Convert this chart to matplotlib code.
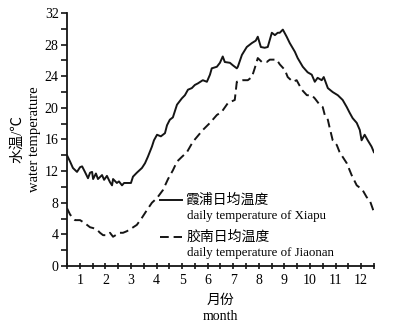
import matplotlib
matplotlib.use('Agg')
import matplotlib.pyplot as plt
from matplotlib.lines import Line2D

plt.rcParams['font.family'] = ['Liberation Serif', 'Noto Sans CJK SC', 'DejaVu Sans']

# daily mean water temperature, x in months
xiapu_month = [0.5, 0.62, 0.73, 0.89, 1.01, 1.09, 1.20, 1.32, 1.40, 1.48, 1.52, 1.63, 1.71, 1.87,
               1.95, 2.06, 2.18, 2.26, 2.30, 2.45, 2.53, 2.65, 2.73, 2.88, 3.00, 3.08, 3.23, 3.43,
               3.55, 3.66, 3.82, 3.90, 4.02, 4.17, 4.33, 4.41, 4.52, 4.64, 4.80, 4.99, 5.11, 5.23,
               5.38, 5.50, 5.62, 5.81, 5.97, 6.09, 6.16, 6.36, 6.48, 6.59, 6.67, 6.87, 6.98, 7.14,
               7.18, 7.34, 7.53, 7.73, 7.88, 7.96, 8.08, 8.23, 8.35, 8.51, 8.63, 8.74, 8.82, 8.94,
               9.09, 9.21, 9.41, 9.52, 9.72, 9.91, 10.07, 10.19, 10.30, 10.46, 10.54, 10.70, 10.89,
               11.09, 11.28, 11.44, 11.55, 11.67, 11.83, 11.95, 12.02, 12.14, 12.26, 12.41, 12.5]
xiapu_temp = [14.0, 13.2, 12.4, 11.9, 12.5, 12.6, 11.9, 11.1, 11.8, 11.9, 11.0, 11.7, 11.0, 11.5,
              10.9, 11.4, 10.6, 10.2, 11.0, 10.5, 10.7, 10.2, 10.5, 10.5, 10.5, 11.3, 11.8, 12.4,
              13.0, 13.8, 15.1, 15.9, 16.6, 16.4, 16.8, 17.8, 18.5, 18.8, 20.4, 21.2, 21.6, 22.3,
              22.5, 22.9, 23.1, 23.5, 23.3, 24.2, 25.0, 25.2, 25.7, 26.5, 25.8, 25.7, 25.4, 25.0,
              25.2, 26.7, 27.7, 28.2, 28.5, 29.0, 27.7, 27.6, 27.7, 29.5, 29.2, 29.5, 29.5, 29.9,
              29.0, 28.2, 27.1, 26.3, 25.2, 24.5, 24.2, 23.3, 23.8, 23.5, 23.9, 22.5, 22.0,
              21.6, 21.0, 20.1, 19.4, 18.7, 18.1, 17.2, 15.9, 16.6, 15.9, 15.1, 14.4]

jiaonan_month = [0.5, 0.62, 0.81, 1.01, 1.20, 1.40, 1.52, 1.67, 1.79, 1.91, 2.06, 2.18, 2.30, 2.45,
                 2.57, 2.69, 2.84, 3.04, 3.23, 3.43, 3.63, 3.82, 4.02, 4.25, 4.45, 4.64, 4.80, 4.99,
                 5.19, 5.42, 5.81, 6.09, 6.36, 6.55, 6.79, 7.06, 7.14, 7.38, 7.57, 7.73, 7.84, 7.96,
                 8.12, 8.31, 8.43, 8.70, 8.82, 9.02, 9.13, 9.33, 9.48, 9.68, 9.88, 10.07, 10.19,
                 10.38, 10.50, 10.58, 10.70, 10.77, 10.89, 11.05, 11.16, 11.28, 11.44, 11.63, 11.83,
                 11.95, 12.06, 12.22, 12.34, 12.45, 12.5]
jiaonan_temp = [7.3, 6.5, 5.8, 5.8, 5.4, 4.9, 4.8, 4.6, 4.2, 3.9, 3.9, 4.2, 3.7, 4.0,
                4.2, 4.2, 4.4, 4.8, 5.2, 6.1, 7.1, 8.0, 8.6, 9.6, 11.0, 12.1, 13.2, 13.8,
                14.4, 15.7, 17.2, 18.1, 19.1, 19.5, 20.6, 21.0, 23.3, 23.5, 23.5, 23.9, 25.0, 26.3,
                25.8, 25.8, 26.1, 26.1, 25.5, 24.8, 23.9, 23.3, 23.5, 22.3, 21.6, 21.6, 21.2,
                20.4, 20.1, 19.1, 18.5, 17.5, 15.9, 15.3, 14.4, 13.8, 13.0, 11.5, 10.2,
                9.9, 9.6, 8.7, 8.3, 7.3, 6.8]

month_ticks = list(range(1, 13))
temp_ticks = list(range(0, 33, 4))
labels_cn = ['霞浦日均温度', '胶南日均温度']
labels_en = ['daily temperature of Xiapu', 'daily temperature of Jiaonan']

fig = plt.figure(figsize=(3.99, 3.29), dpi=100)
ax = fig.add_axes([0.168, 0.1915, 0.769, 0.769])

ax.plot(xiapu_month, xiapu_temp, color='#151515', lw=1.4)
ax.plot(jiaonan_month, jiaonan_temp, color='#151515', lw=1.4, linestyle=(0, (4.5, 2.5)))

ax.set_xlim(0.5, 12.5)
ax.set_ylim(0, 32)
ax.set_xticks(month_ticks)
ax.set_xticks([m + 0.5 for m in range(0, 13)], minor=True)
ax.set_yticks(temp_ticks)
ax.set_yticks(list(range(2, 32, 4)), minor=True)

for s in ['top', 'right']:
    ax.spines[s].set_visible(False)
for s in ['left', 'bottom']:
    ax.spines[s].set_linewidth(1.3)
    ax.spines[s].set_color('#151515')

ax.tick_params(axis='y', which='both', direction='out', length=4, width=1.1, labelsize=10, pad=2)
ax.tick_params(axis='x', which='both', direction='inout', length=5, width=1.1, labelsize=10, pad=3)

ax.set_ylabel('水温/℃\nwater temperature', fontsize=10.5, labelpad=3, linespacing=1.3)
ax.set_xlabel('月份\nmonth', fontsize=10, labelpad=5, linespacing=1.3)

# legend built by hand: Chinese name on the line row, English name underneath
styles = ['-', (0, (4.5, 2.5))]
rows = [(0.261, 0.198), (0.115, 0.051)]
for style, (y_line, y_en), cn, en in zip(styles, rows, labels_cn, labels_en):
    ax.add_line(Line2D([0.303, 0.375], [y_line, y_line], transform=ax.transAxes,
                       color='#151515', lw=1.4, linestyle=style))
    ax.text(0.388, y_line, cn, transform=ax.transAxes, fontsize=10, va='center', ha='left')
    ax.text(0.391, y_en, en, transform=ax.transAxes, fontsize=9.3, va='center', ha='left')

fig.savefig('out.png', dpi=100)
